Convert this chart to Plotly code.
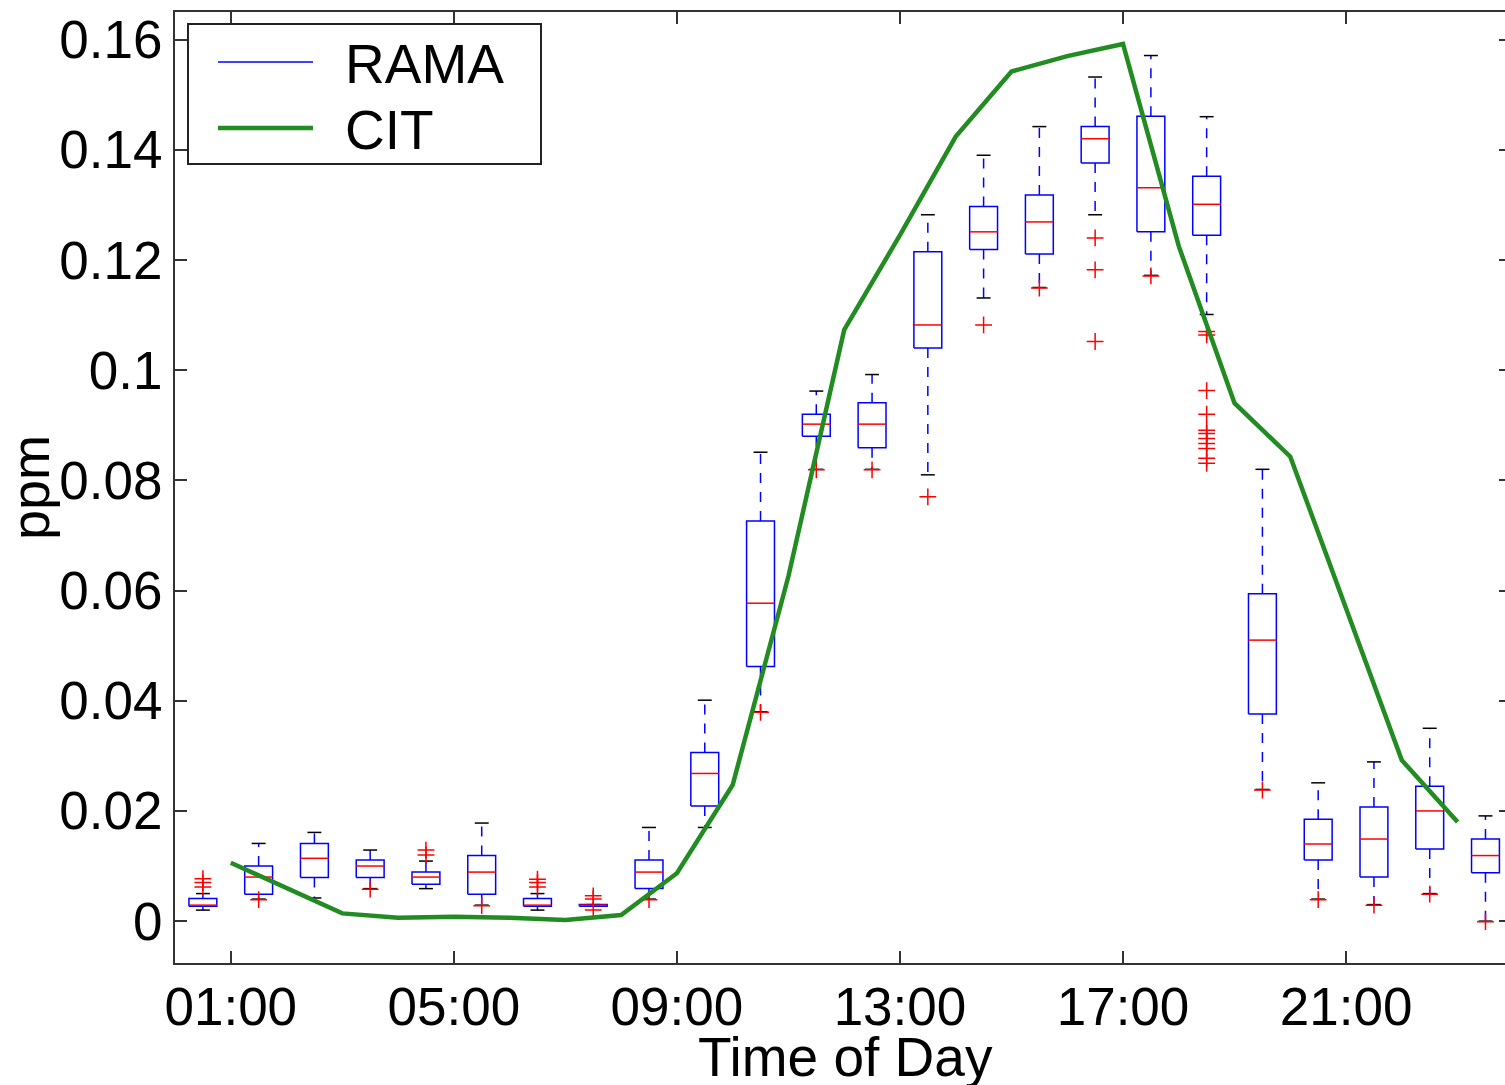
import plotly.graph_objects as go

# ---- data ----
box_positions = [0.5, 1.5, 2.5, 3.5, 4.5, 5.5, 6.5, 7.5, 8.5, 9.5, 10.5, 11.5,
                 12.5, 13.5, 14.5, 15.5, 16.5, 17.5, 18.5, 19.5, 20.5, 21.5, 22.5, 23.5]
rama_q1 = [0.0027, 0.0049, 0.0079, 0.0079, 0.0067, 0.0049, 0.0027, 0.0027, 0.0059, 0.0209, 0.0462, 0.0880,
           0.0859, 0.1040, 0.1219, 0.1211, 0.1376, 0.1251, 0.1245, 0.0376, 0.0111, 0.0080, 0.0131, 0.0088]
rama_median = [0.0029, 0.0080, 0.0114, 0.0100, 0.0080, 0.0089, 0.0029, 0.0029, 0.0089, 0.0268, 0.0577, 0.0902,
               0.0902, 0.1082, 0.1251, 0.1269, 0.1420, 0.1331, 0.1301, 0.0510, 0.0140, 0.0149, 0.0200, 0.0119]
rama_q3 = [0.0041, 0.0100, 0.0141, 0.0111, 0.0089, 0.0119, 0.0041, 0.0030, 0.0111, 0.0306, 0.0726, 0.0920,
           0.0941, 0.1215, 0.1297, 0.1318, 0.1442, 0.1461, 0.1352, 0.0594, 0.0185, 0.0207, 0.0245, 0.0149]
rama_whisker_low = [0.0020, 0.0040, 0.0042, 0.0059, 0.0059, 0.0029, 0.0020, 0.0027, 0.0040, 0.0170, 0.0380, 0.0820,
                    0.0820, 0.0810, 0.1131, 0.1150, 0.1282, 0.1172, 0.1101, 0.0239, 0.0040, 0.0030, 0.0050, 0.0000]
rama_whisker_high = [0.0050, 0.0141, 0.0161, 0.0129, 0.0109, 0.0178, 0.0050, 0.0030, 0.0170, 0.0401, 0.0851, 0.0962,
                     0.0992, 0.1282, 0.1390, 0.1442, 0.1532, 0.1571, 0.1460, 0.0820, 0.0251, 0.0289, 0.0350, 0.0191]
rama_outliers = [
    [0.0062, 0.0070, 0.0077],
    [0.0039],
    [],
    [0.0058],
    [0.0120, 0.0129],
    [0.0028],
    [0.0062, 0.0070, 0.0076],
    [0.0020, 0.0040, 0.0046],
    [0.0039],
    [],
    [0.0379],
    [0.0819],
    [0.0819],
    [0.0770],
    [0.1082],
    [0.1149],
    [0.1240, 0.1182, 0.1052],
    [0.1171],
    [0.1070, 0.1064, 0.0963, 0.0920, 0.0891, 0.0885, 0.0876, 0.0867, 0.0858, 0.0840, 0.0831],
    [0.0238],
    [0.0039],
    [0.0029],
    [0.0049],
    [-0.0001],
]

cit_hours = [1, 2, 3, 4, 5, 6, 7, 8, 9, 10, 11, 12, 13, 14, 15, 16, 17, 18, 19, 20, 21, 22, 23]
cit_values = [0.0106, 0.0060, 0.0014, 0.0006, 0.0008, 0.0006, 0.0002, 0.0011, 0.0087, 0.0247, 0.0626, 0.1073,
              0.1245, 0.1424, 0.1542, 0.1570, 0.1592, 0.1225, 0.0940, 0.0843, 0.0570, 0.0292, 0.0180]

xtick_vals = [1, 5, 9, 13, 17, 21]
xtick_text = ["01:00", "05:00", "09:00", "13:00", "17:00", "21:00"]
ytick_vals = [0, 0.02, 0.04, 0.06, 0.08, 0.1, 0.12, 0.14, 0.16]
ytick_text = ["0", "0.02", "0.04", "0.06", "0.08", "0.1", "0.12", "0.14", "0.16"]

BOX_W = 0.5
CAP_W = 0.25
BLUE = "#0000ff"
RED = "#ff0000"
GREEN = "#228b22"
AXC = "#333333"
X_RANGE = [0, 23.85]
Y_RANGE = [-0.0076, 0.165]

# ---- build box-plot geometry from the statistics ----
box_x, box_y = [], []
med_x, med_y = [], []
wh_x, wh_y = [], []
cap_x, cap_y = [], []
fl_x, fl_y = [], []
for p, a, m, b, lo, hi, outs in zip(box_positions, rama_q1, rama_median, rama_q3,
                                    rama_whisker_low, rama_whisker_high, rama_outliers):
    l, r = p - BOX_W / 2, p + BOX_W / 2
    box_x += [l, r, r, l, l, None]
    box_y += [a, a, b, b, a, None]
    med_x += [l, r, None]
    med_y += [m, m, None]
    wh_x += [p, p, None, p, p, None]
    wh_y += [b, hi, None, a, lo, None]
    cap_x += [p - CAP_W / 2, p + CAP_W / 2, None, p - CAP_W / 2, p + CAP_W / 2, None]
    cap_y += [hi, hi, None, lo, lo, None]
    for o in outs:
        fl_x.append(p)
        fl_y.append(o)

fig = go.Figure()
fig.add_trace(go.Scatter(x=wh_x, y=wh_y, mode="lines", line=dict(color=BLUE, width=1.5, dash="10px,9px"),
                         showlegend=False, hoverinfo="skip"))
fig.add_trace(go.Scatter(x=cap_x, y=cap_y, mode="lines", line=dict(color="#000000", width=1.5),
                         showlegend=False, hoverinfo="skip"))
fig.add_trace(go.Scatter(x=box_x, y=box_y, mode="lines", line=dict(color=BLUE, width=1.5),
                         name="RAMA", showlegend=False))
fig.add_trace(go.Scatter(x=med_x, y=med_y, mode="lines", line=dict(color=RED, width=1.5),
                         showlegend=False, hoverinfo="skip"))
fig.add_trace(go.Scatter(x=fl_x, y=fl_y, mode="markers",
                         marker=dict(symbol="cross-thin", size=12, line=dict(color=RED, width=1.5)),
                         showlegend=False))
fig.add_trace(go.Scatter(x=cit_hours, y=cit_values, mode="lines", name="CIT",
                         line=dict(color=GREEN, width=4.5), showlegend=False))

# ---- layout geometry (pixels) ----
W, H = 1505, 1085
L, R, T, B = 175, 0, 12, 122
PW, PH = W - L - R, H - T - B


def px(xpix):
    return (xpix - L) / PW


def py(ypix):
    return (H - B - ypix) / PH


# manual legend (box, line samples, labels)
shapes = [
    dict(type="rect", xref="paper", yref="paper", x0=px(188), x1=px(541), y0=py(164), y1=py(24),
         line=dict(color="#222222", width=2), fillcolor="white", layer="above"),
    dict(type="line", xref="paper", yref="paper", x0=px(218), x1=px(313), y0=py(62), y1=py(62),
         line=dict(color=BLUE, width=1.5), layer="above"),
    dict(type="line", xref="paper", yref="paper", x0=px(218), x1=px(313), y0=py(128), y1=py(128),
         line=dict(color=GREEN, width=4.5), layer="above"),
]
FONT = "Liberation Sans, Arial, Helvetica, sans-serif"
annotations = [
    dict(xref="paper", yref="paper", x=px(343), y=py(64), text="RAMA", showarrow=False,
         xanchor="left", yanchor="middle", font=dict(size=55, family=FONT, color="black")),
    dict(xref="paper", yref="paper", x=px(343), y=py(130), text="CIT", showarrow=False,
         xanchor="left", yanchor="middle", font=dict(size=55, family=FONT, color="black")),
    dict(xref="paper", yref="paper", x=px(845), y=py(1057), text="Time of Day", showarrow=False,
         xanchor="center", yanchor="middle", font=dict(size=55, family=FONT, color="black")),
]

fig.update_layout(
    width=W, height=H,
    margin=dict(l=L, r=R, t=T, b=B),
    plot_bgcolor="white", paper_bgcolor="white",
    font=dict(family=FONT, size=52, color="black"),
    showlegend=False,
    shapes=shapes,
    annotations=annotations,
    xaxis=dict(range=X_RANGE, tickvals=xtick_vals, ticktext=xtick_text,
               showgrid=False, zeroline=False, showline=True, linecolor=AXC, linewidth=2,
               mirror="ticks", ticks="inside", ticklen=12, tickwidth=1.5, tickcolor=AXC,
               ticklabelstandoff=-4, tickfont=dict(size=53)),
    yaxis=dict(range=Y_RANGE, tickvals=ytick_vals, ticktext=ytick_text,
               showgrid=False, zeroline=False, showline=True, linecolor=AXC, linewidth=2,
               ticks="inside", ticklen=12, tickwidth=1.5, tickcolor=AXC,
               tickfont=dict(size=53),
               title=dict(text="ppm", standoff=0, font=dict(size=54))),
    yaxis2=dict(range=Y_RANGE, overlaying="y", side="right", tickvals=ytick_vals,
                showgrid=False, zeroline=False, showline=False, showticklabels=False,
                ticks="inside", ticklen=6, tickwidth=1.5, tickcolor=AXC),
)
# an empty trace so the right-hand tick axis is drawn
fig.add_trace(go.Scatter(x=[None], y=[None], yaxis="y2", showlegend=False, hoverinfo="skip"))

fig.write_html("out.html")
